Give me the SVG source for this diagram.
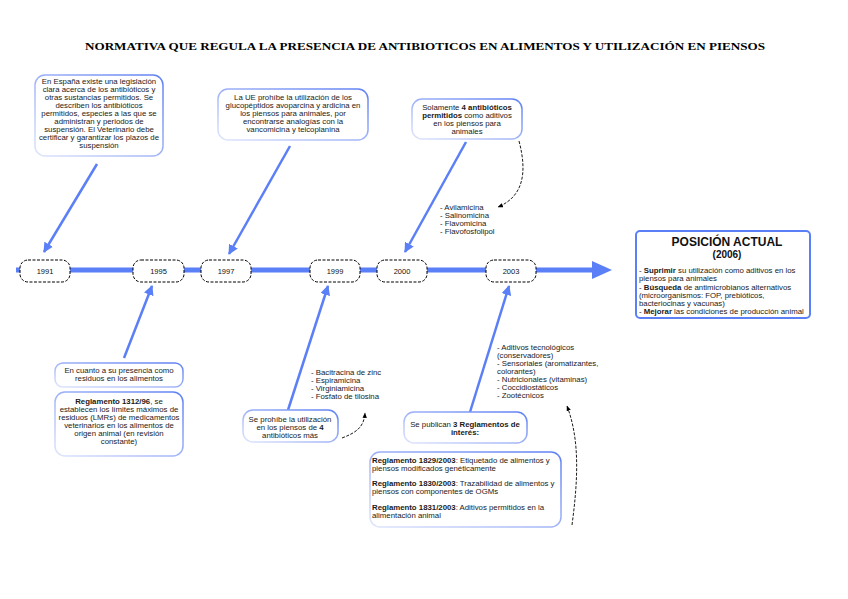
<svg xmlns="http://www.w3.org/2000/svg" width="848" height="599" viewBox="0 0 848 599">
<defs>
<linearGradient id="bd" x1="0" y1="1" x2="1" y2="0">
<stop offset="0" stop-color="#dfe5fb"/>
<stop offset="1" stop-color="#5f80f4"/>
</linearGradient>
<marker id="ah" viewBox="0 0 10 10" refX="9" refY="5" markerWidth="4" markerHeight="4" orient="auto">
<path d="M0,0 L10,5 L0,10 z" fill="#5b7ff6"/>
</marker>
<marker id="dh" viewBox="0 0 10 10" refX="9" refY="5" markerWidth="6" markerHeight="6" orient="auto">
<path d="M0,1 L10,5 L0,9 z" fill="#000"/>
</marker>
<style>
.t{font-family:"Liberation Sans",Arial,sans-serif;font-size:7.8px;fill:#1a1a1a}
.c{text-anchor:middle}
.b{font-weight:bold}
.box{fill:#fff;stroke:url(#bd);stroke-width:1.5}
.yr{fill:#fff;stroke:#000;stroke-width:1;stroke-dasharray:3,1.5}
.yt{font-family:"Liberation Sans",Arial,sans-serif;font-size:7.5px;fill:#111;text-anchor:middle}
.arr{stroke:#5b7ff6;stroke-width:2.5;fill:none;marker-end:url(#ah)}
.dsh{stroke:#000;stroke-width:0.9;fill:none;stroke-dasharray:3,1.5;marker-end:url(#dh)}
</style>
</defs>
<rect width="848" height="599" fill="#fff"/>
<text x="425" y="50" text-anchor="middle" font-family="Liberation Serif,serif" font-weight="bold" font-size="10.5" textLength="680" lengthAdjust="spacingAndGlyphs">NORMATIVA QUE REGULA LA PRESENCIA DE ANTIBIOTICOS EN ALIMENTOS Y UTILIZACIÓN EN PIENSOS</text>

<g id="connectors">
<line x1="16" y1="270" x2="596" y2="270" stroke="#5b7ff6" stroke-width="5"/>
<path d="M592,261 L612,270 L592,279 z" fill="#5b7ff6"/>
<line class="arr" x1="97" y1="164" x2="44" y2="252"/>
<line class="arr" x1="290" y1="146" x2="229" y2="254"/>
<line class="arr" x1="466" y1="142" x2="405" y2="252"/>
<line class="arr" x1="124" y1="358" x2="152" y2="286"/>
<line class="arr" x1="288" y1="410" x2="328" y2="286"/>
<line class="arr" x1="470" y1="412" x2="509" y2="286"/>
<path class="dsh" d="M519,141 C528,175 522,197 498,207"/>
<path class="dsh" d="M342,438 C355,433 364,428 365,413"/>
<path class="dsh" d="M572,525 C578,480 580,440 567,406"/>
</g>

<g id="y1991"><rect class="yr" x="20" y="260" width="50" height="22" rx="8"/><text class="yt" x="45" y="274">1991</text></g>
<g id="y1995"><rect class="yr" x="133" y="260" width="51" height="22" rx="8"/><text class="yt" x="158.5" y="274">1995</text></g>
<g id="y1997"><rect class="yr" x="201" y="260" width="50" height="22" rx="8"/><text class="yt" x="226" y="274">1997</text></g>
<g id="y1999"><rect class="yr" x="310" y="260" width="50" height="22" rx="8"/><text class="yt" x="335" y="274">1999</text></g>
<g id="y2000"><rect class="yr" x="377" y="260" width="50" height="22" rx="8"/><text class="yt" x="402" y="274">2000</text></g>
<g id="y2003"><rect class="yr" x="486" y="260" width="50" height="22" rx="8"/><text class="yt" x="511" y="274">2003</text></g>

<g id="box-espana">
<rect class="box" x="35" y="75" width="128" height="81" rx="10"/>
<text class="t c" x="99" y="84">En España existe una legislación</text>
<text class="t c" x="99" y="92">clara acerca de los antibióticos y</text>
<text class="t c" x="99" y="100">otras sustancias permitidos. Se</text>
<text class="t c" x="99" y="108">describen los antibióticos</text>
<text class="t c" x="99" y="116">permitidos, especies a las que se</text>
<text class="t c" x="99" y="124">administran y periodos de</text>
<text class="t c" x="99" y="132">suspensión. El Veterinario debe</text>
<text class="t c" x="99" y="140">certificar y garantizar los plazos de</text>
<text class="t c" x="99" y="148">suspensión</text>
</g>

<g id="box-ue">
<rect class="box" x="218" y="89" width="150" height="51" rx="10"/>
<text class="t c" x="293" y="100">La UE prohíbe la utilización de los</text>
<text class="t c" x="293" y="108">glucopéptidos avoparcina y ardicina en</text>
<text class="t c" x="293" y="116">los piensos para animales, por</text>
<text class="t c" x="293" y="124">encontrarse analogías con la</text>
<text class="t c" x="293" y="132">vancomicina y teicoplanina</text>
</g>

<g id="box-solamente">
<rect class="box" x="412" y="99" width="110" height="40" rx="10"/>
<text class="t c" x="467" y="110">Solamente <tspan class="b">4 antibióticos</tspan></text>
<text class="t c" x="467" y="118"><tspan class="b">permitidos</tspan> como aditivos</text>
<text class="t c" x="467" y="126">en los piensos para</text>
<text class="t c" x="467" y="134">animales</text>
</g>

<g id="list-2000">
<text class="t" x="440" y="210">- Avilamicina</text>
<text class="t" x="440" y="218">- Salinomicina</text>
<text class="t" x="440" y="226">- Flavomicina</text>
<text class="t" x="440" y="234">- Flavofosfolipol</text>
</g>

<g id="box-posicion">
<rect x="636" y="231" width="174" height="87" rx="4" fill="#fff" stroke="#5b7ff6" stroke-width="2"/>
<text x="727" y="246" text-anchor="middle" font-family="Liberation Sans,Arial,sans-serif" font-weight="bold" font-size="12" fill="#111">POSICIÓN ACTUAL</text>
<text x="727" y="258" text-anchor="middle" font-family="Liberation Sans,Arial,sans-serif" font-weight="bold" font-size="10" fill="#111">(2006)</text>
<text class="t" x="639" y="273">- <tspan class="b">Suprimir</tspan> su utilización como aditivos en los</text>
<text class="t" x="639" y="281">piensos para animales</text>
<text class="t" x="639" y="290">- <tspan class="b">Búsqueda</tspan> de antimicrobianos alternativos</text>
<text class="t" x="639" y="298">(microorganismos: FOP, prebióticos,</text>
<text class="t" x="639" y="306">bacteriocinas y vacunas)</text>
<text class="t" x="639" y="314">- <tspan class="b">Mejorar</tspan> las condiciones de producción animal</text>
</g>

<g id="box-residuos">
<rect class="box" x="55" y="363" width="128" height="24" rx="8"/>
<text class="t c" x="119" y="373">En cuanto a su presencia como</text>
<text class="t c" x="119" y="381">residuos en los alimentos</text>
</g>

<g id="box-reglamento1312">
<rect class="box" x="55" y="392" width="128" height="64" rx="10"/>
<text class="t c" x="119" y="404"><tspan class="b">Reglamento 1312/96</tspan>, se</text>
<text class="t c" x="119" y="412">establecen los límites máximos de</text>
<text class="t c" x="119" y="420">residuos (LMRs) de medicamentos</text>
<text class="t c" x="119" y="428">veterinarios en los alimentos de</text>
<text class="t c" x="119" y="436">origen animal (en revisión</text>
<text class="t c" x="119" y="444">constante)</text>
</g>

<g id="list-1999">
<text class="t" x="311" y="375">- Bacitracina de zinc</text>
<text class="t" x="311" y="383">- Espiramicina</text>
<text class="t" x="311" y="391">- Virginiamicina</text>
<text class="t" x="311" y="399">- Fosfato de tilosina</text>
</g>

<g id="box-prohibe">
<rect class="box" x="243" y="410" width="95" height="32" rx="10"/>
<text class="t c" x="290" y="422">Se prohíbe la utilización</text>
<text class="t c" x="290" y="430">en los piensos de <tspan class="b">4</tspan></text>
<text class="t c" x="290" y="438">antibióticos más</text>
</g>

<g id="list-2003">
<text class="t" x="497" y="350">- Aditivos tecnológicos</text>
<text class="t" x="497" y="358">(conservadores)</text>
<text class="t" x="497" y="366">- Sensoriales (aromatizantes,</text>
<text class="t" x="497" y="374">colorantes)</text>
<text class="t" x="497" y="382">- Nutricionales (vitaminas)</text>
<text class="t" x="497" y="390">- Coccidiostáticos</text>
<text class="t" x="497" y="398">- Zootécnicos</text>
</g>

<g id="box-publican">
<rect class="box" x="404" y="412" width="123" height="31" rx="10"/>
<text class="t c" x="465" y="427">Se publican <tspan class="b">3 Reglamentos de</tspan></text>
<text class="t c b" x="465" y="435">interés:</text>
</g>

<g id="box-reglamentos2003">
<rect class="box" x="370" y="452" width="191" height="75" rx="10"/>
<text class="t" x="372" y="463"><tspan class="b">Reglamento 1829/2003</tspan>: Etiquetado de alimentos y</text>
<text class="t" x="372" y="471">piensos modificados genéticamente</text>
<text class="t" x="372" y="486"><tspan class="b">Reglamento 1830/2003</tspan>: Trazabilidad de alimentos y</text>
<text class="t" x="372" y="494">piensos con componentes de OGMs</text>
<text class="t" x="372" y="510"><tspan class="b">Reglamento 1831/2003</tspan>: Aditivos permitidos en la</text>
<text class="t" x="372" y="518">alimentación animal</text>
</g>
</svg>
